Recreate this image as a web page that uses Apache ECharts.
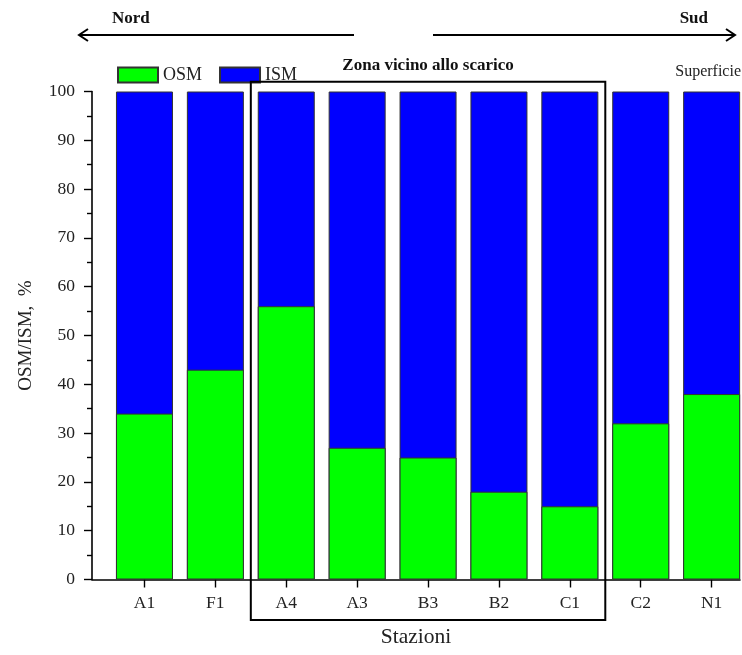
<!DOCTYPE html>
<html><head><meta charset="utf-8">
<script src="https://cdn.jsdelivr.net/npm/echarts@6/dist/echarts.min.js"></script>
<style>html,body{margin:0;padding:0;background:#fff}#c{width:742px;height:655px}</style>
</head><body><div id="c"></div>
<script>
const categories = ['A1', 'F1', 'A4', 'A3', 'B3', 'B2', 'C1', 'C2', 'N1'];
const osmValues = [34, 43, 56, 27, 25, 18, 15, 32, 38];
const ismValues = [66, 57, 44, 73, 75, 82, 85, 68, 62];
const seriesNames = ['OSM', 'ISM'];
const zoneRange = [1.5, 6.5]; // between F1/A4 and C1/C2
const zoneLabel = 'Zona vicino allo scarico';

const FONT = 'Liberation Serif';
const catIdx = categories.map((c, i) => i);

const chart = echarts.init(document.getElementById('c'), null, {renderer: 'canvas'});
const option = {
  backgroundColor: '#fff',
  animation: false,
  textStyle: {fontFamily: FONT},
  grid: {left: 92, right: 2, top: 91.5, bottom: 75.5, containLabel: false},
  legend: {
    data: seriesNames,
    left: 112, top: 61,
    itemWidth: 40, itemHeight: 15, itemGap: 17,
    icon: 'rect',
    textStyle: {fontFamily: FONT, fontSize: 18, color: '#222', padding: [0, 0, 0, 0]},
    selectedMode: false
  },
  xAxis: {
    type: 'value',
    min: -0.74, max: 8.4,
    name: 'Stazioni', nameLocation: 'middle', nameGap: 47,
    nameTextStyle: {fontFamily: FONT, fontSize: 21.5, color: '#222'},
    axisLine: {show: true, onZero: false, lineStyle: {color: '#000', width: 1.6}},
    axisTick: {show: true, customValues: catIdx, length: 8, lineStyle: {color: '#000', width: 1.4}},
    axisLabel: {customValues: catIdx, margin: 15, fontFamily: FONT, fontSize: 17.5, color: '#222',
      formatter: v => categories[Math.round(v)] || ''},
    splitLine: {show: false}
  },
  yAxis: {
    type: 'value', min: 0, max: 100, interval: 10,
    name: 'OSM/ISM,  %', nameLocation: 'middle', nameGap: 56,
    nameTextStyle: {fontFamily: FONT, fontSize: 19, color: '#222'},
    axisLine: {show: true, onZero: false, lineStyle: {color: '#000', width: 1.6}},
    axisTick: {show: true, length: 8, lineStyle: {color: '#000', width: 1.4}},
    minorTick: {show: true, splitNumber: 2, length: 5, lineStyle: {color: '#000', width: 1.4}},
    axisLabel: {margin: 17, fontFamily: FONT, fontSize: 17.5, color: '#222'},
    splitLine: {show: false}
  },
  series: [
    {
      name: 'ISM', type: 'bar', barWidth: 57, barGap: '-100%',
      itemStyle: {color: '#0000ff', borderColor: '#333', borderWidth: 1},
      data: catIdx.map(i => [i, osmValues[i] + ismValues[i]])
    },
    {
      name: 'OSM', type: 'bar', barWidth: 57, barGap: '-100%',
      itemStyle: {color: '#00ff00', borderColor: '#333', borderWidth: 1},
      data: catIdx.map(i => [i, osmValues[i]])
    }
  ]
};
chart.setOption(option);

const x0 = chart.convertToPixel({gridIndex: 0}, [zoneRange[0], 0])[0];
const x1 = chart.convertToPixel({gridIndex: 0}, [zoneRange[1], 0])[0];
const yTop = chart.convertToPixel({gridIndex: 0}, [0, 102])[1];
const yBot = chart.convertToPixel({gridIndex: 0}, [0, -8.3])[1];

chart.setOption({
  graphic: [
    {type: 'rect', shape: {x: x0, y: yTop, width: x1 - x0, height: yBot - yTop},
      style: {fill: 'none', stroke: '#000', lineWidth: 2}, z: 10},
    {type: 'text', x: (x0 + x1) / 2, y: 66, style: {text: zoneLabel, fontFamily: FONT, fontWeight: 'bold', fontSize: 17, fill: '#111', align: 'center', verticalAlign: 'middle'}},
    {type: 'text', x: 741, y: 72, style: {text: 'Superficie', fontFamily: FONT, fontSize: 16, fill: '#222', align: 'right', verticalAlign: 'middle'}},
    {type: 'text', x: 112, y: 19, style: {text: 'Nord', fontFamily: FONT, fontWeight: 'bold', fontSize: 17, fill: '#111', align: 'left', verticalAlign: 'middle'}},
    {type: 'text', x: 708, y: 19, style: {text: 'Sud', fontFamily: FONT, fontWeight: 'bold', fontSize: 17, fill: '#111', align: 'right', verticalAlign: 'middle'}},
    {type: 'line', shape: {x1: 79, y1: 35, x2: 354, y2: 35}, style: {stroke: '#000', lineWidth: 2}},
    {type: 'polyline', shape: {points: [[88, 29], [79, 35], [88, 41]]}, style: {stroke: '#000', lineWidth: 2, fill: 'none'}},
    {type: 'line', shape: {x1: 433, y1: 35, x2: 735, y2: 35}, style: {stroke: '#000', lineWidth: 2}},
    {type: 'polyline', shape: {points: [[726, 29], [735, 35], [726, 41]]}, style: {stroke: '#000', lineWidth: 2, fill: 'none'}}
  ]
});
</script>
</body></html>
